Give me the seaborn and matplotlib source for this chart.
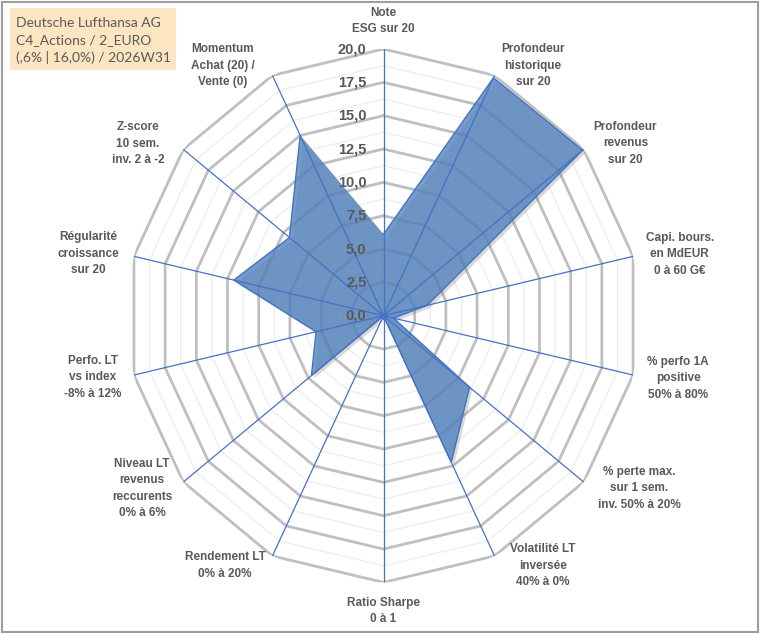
import numpy as np
import pandas as pd
import seaborn as sns
import matplotlib.pyplot as plt
from matplotlib.patches import Rectangle
import matplotlib.patheffects as pe

# radar axes, clockwise from the top
categories = [
    "Note\nESG sur 20",
    "Profondeur\nhistorique\nsur 20",
    "Profondeur\nrevenus\nsur 20",
    "Capi. bours.\nen MdEUR\n0 à 60 G€",
    "% perfo 1A\npositive\n50% à 80%",
    "% perte max.\nsur 1 sem.\ninv. 50% à 20%",
    "Volatilité LT\ninversée\n40% à 0%",
    "Ratio Sharpe\n0 à 1",
    "Rendement LT\n0% à 20%",
    "Niveau LT\nrevenus\nreccurents\n0% à 6%",
    "Perfo. LT\nvs index\n-8% à 12%",
    "Régularité\ncroissance\nsur 20",
    "Z-score\n10 sem.\ninv. 2 à -2",
    "Momentum\nAchat (20) /\nVente (0)",
]
scores = [6.1, 19.8, 19.9, 3.5, 0.8, 8.6, 12.2, 0.0, 0.0, 7.2, 5.4, 12.0, 9.4, 15.0]
r_ticks = [0, 2.5, 5, 7.5, 10, 12.5, 15, 17.5, 20]
r_tick_labels = ["0,0", "2,5", "5,0", "7,5", "10,0", "12,5", "15,0", "17,5", "20,0"]
title_lines = ["Deutsche Lufthansa AG", "C4_Actions / 2_EURO", "(,6% | 16,0%) / 2026W31"]

# where each category label sits (degrees clockwise from top, radius in score units)
label_angle = [0, 31.9, 55.6, 78.7, 101.5, 122.9, 146.4, 180, 213.5, 235.5, 258.5, 281.4, 303.9, 326.2]
label_radius = [22.1, 22.1, 22.9, 23.6, 23.5, 23.8, 22.5, 22.15, 22.45, 22.9, 23.2, 23.5, 23.1, 22.55]

sns.set_theme(style="white")
plt.rcParams["font.family"] = ["Liberation Sans", "DejaVu Sans"]

W, H = 760, 633
fig = plt.figure(figsize=(W / 100, H / 100), dpi=100)
ax = fig.add_axes([127.5 / W, 1 - 582.4 / H, 512 / W, 533.4 / H], projection="polar")
ax.set_aspect("auto")
ax.set_theta_zero_location("N")
ax.set_theta_direction(-1)
ax.patch.set_alpha(0)

n = len(categories)
theta = np.arange(n) * 2 * np.pi / n
theta_closed = np.append(theta, theta[0])

# polygon grid: light minor rings, gray major rings
for lvl in np.arange(1.25, 20, 2.5):
    ax.plot(theta_closed, [lvl] * (n + 1), color="#EDEDED", lw=0.9, zorder=1)
for lvl in r_ticks[1:]:
    ax.plot(theta_closed, [lvl] * (n + 1), color="#BFBFBF", lw=2.0, zorder=2)
for t in theta:
    ax.plot([t, t], [0, 20], color="#4472C4", lw=0.9, zorder=5)

df = pd.DataFrame({"theta": theta_closed, "score": scores + scores[:1]})
ax.fill(df["theta"], df["score"], color="#4F81BD", alpha=0.78, lw=0, zorder=3,
        path_effects=[pe.SimplePatchShadow(offset=(2, -2), shadow_rgbFace="#7F7F7F", alpha=0.3),
                      pe.Normal()])
sns.lineplot(data=df, x="theta", y="score", sort=False, ax=ax, color="#4472C4",
             lw=1.0, zorder=4)
ax.plot(0, 0, "o", color="#4472C4", ms=4, zorder=6)

ax.set_ylim(0, 20)
ax.set_xticks([])
ax.set_yticks([])
ax.grid(False)
ax.spines["polar"].set_visible(False)
ax.set_xlabel("")
ax.set_ylabel("")

for v, lab in zip(r_ticks, r_tick_labels):
    ax.annotate(lab, xy=(0, v), xytext=(-17, 0), textcoords="offset pixels",
                ha="right", va="center", fontsize=10.5, fontweight="bold",
                color="#595959", zorder=7)

for lab, a, r in zip(categories, label_angle, label_radius):
    ax.text(np.deg2rad(a), r, lab, ha="center", va="center", multialignment="center",
            fontsize=8.5, fontweight="bold", color="#595959", linespacing=1.5)

# title box
fig.patches.append(Rectangle((10 / W, 1 - 70 / H), 166 / W, 62 / H, transform=fig.transFigure,
                             facecolor="#FCE6C2", edgecolor="none", zorder=0))
fig.text(16 / W, 1 - 40.5 / H, "\n".join(title_lines), ha="left", va="center",
         fontsize=10, color="#595959", family=["Lato", "DejaVu Sans"], linespacing=1.45)

fig.patches.append(Rectangle((1.5 / W, 1.5 / H), (W - 4) / W, (H - 3.5) / H,
                             transform=fig.transFigure, facecolor="none",
                             edgecolor="#9E9E9E", lw=1.5))

fig.savefig("out.png", dpi=100)
